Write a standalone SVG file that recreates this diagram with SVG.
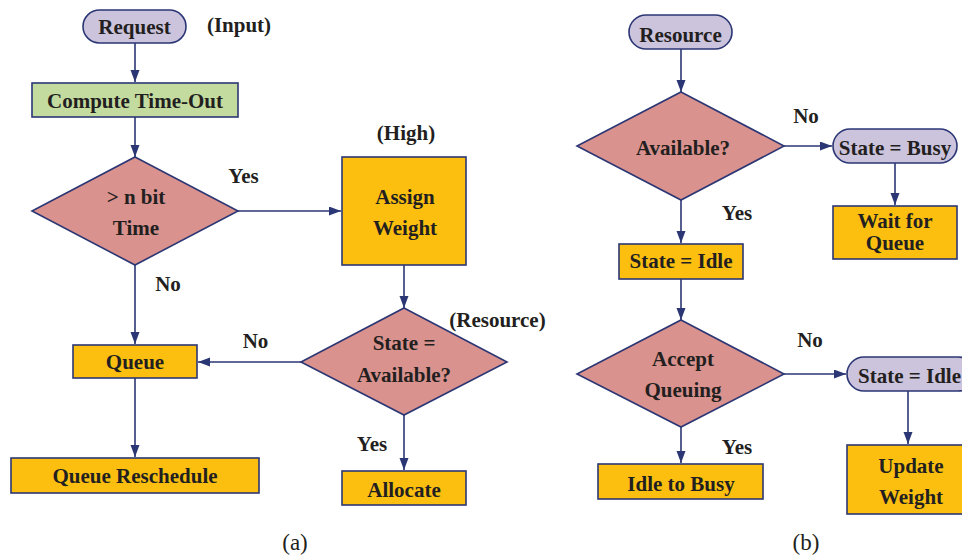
<svg xmlns="http://www.w3.org/2000/svg" width="962" height="556" viewBox="0 0 962 556">
<defs>
<marker id="ah" markerUnits="userSpaceOnUse" markerWidth="12" markerHeight="10" refX="12" refY="4.5" orient="auto">
<path d="M0,0 L12,4.5 L0,9 z" fill="#2B3674"/>
</marker>
<style>
.t{font-family:"Liberation Serif","Times New Roman",serif;font-weight:bold;font-size:21px;fill:#231F20;text-anchor:middle}
.cap{font-family:"Liberation Serif","Times New Roman",serif;font-size:23px;fill:#231F20;text-anchor:middle}
.pill{fill:#CCC3DD;stroke:#2B3674;stroke-width:1.6}
.green{fill:#C4DBA0;stroke:#2B3674;stroke-width:1.6}
.box{fill:#FCBF10;stroke:#2B3674;stroke-width:1.6}
.dia{fill:#D9928D;stroke:#2B3674;stroke-width:1.6}
.c{fill:none;stroke:#2B3674;stroke-width:1.6;marker-end:url(#ah)}
</style>
</defs>
<rect width="962" height="556" fill="#fff"/>
<g id="connectors">
<line class="c" x1="135" y1="43" x2="135" y2="82"/>
<line class="c" x1="135" y1="117" x2="135" y2="157"/>
<line class="c" x1="238" y1="211" x2="341" y2="211"/>
<line class="c" x1="135" y1="265" x2="135" y2="344"/>
<line class="c" x1="404" y1="265" x2="404" y2="308"/>
<line class="c" x1="301" y1="362" x2="198" y2="362"/>
<line class="c" x1="404" y1="415" x2="404" y2="470"/>
<line class="c" x1="135" y1="378" x2="135" y2="457"/>
<line class="c" x1="681" y1="49" x2="681" y2="92"/>
<line class="c" x1="784" y1="146" x2="832" y2="146"/>
<line class="c" x1="895" y1="163" x2="895" y2="205"/>
<line class="c" x1="681" y1="200" x2="681" y2="243"/>
<line class="c" x1="681" y1="279" x2="681" y2="320"/>
<line class="c" x1="784" y1="374" x2="846" y2="374"/>
<line class="c" x1="908" y1="391" x2="908" y2="444"/>
<line class="c" x1="681" y1="427" x2="681" y2="463"/>
</g>
<g id="labels">
<text class="t" x="239" y="32">(Input)</text>
<text class="t" x="243.5" y="183">Yes</text>
<text class="t" x="168" y="291">No</text>
<text class="t" x="406" y="140">(High)</text>
<text class="t" x="497.5" y="327">(Resource)</text>
<text class="t" x="255.5" y="348">No</text>
<text class="t" x="372" y="451">Yes</text>
<text class="t" x="806" y="123">No</text>
<text class="t" x="737" y="220">Yes</text>
<text class="t" x="810" y="347">No</text>
<text class="t" x="737" y="454">Yes</text>
<text class="cap" x="295" y="550">(a)</text>
<text class="cap" x="806" y="550">(b)</text>
</g>
<g id="request"><rect class="pill" x="83" y="10" width="103" height="33" rx="16.5"/><text class="t" x="134.5" y="34">Request</text></g>
<g id="compute"><rect class="green" x="32" y="83" width="206" height="34"/><text class="t" x="135" y="108">Compute Time-Out</text></g>
<g id="nbit"><polygon class="dia" points="135,157 238,211 135,265 32,211"/><text class="t" x="136" y="204">&gt; n bit</text><text class="t" x="136" y="235">Time</text></g>
<g id="assign"><rect class="box" x="342" y="157" width="124" height="108"/><text class="t" x="405" y="204">Assign</text><text class="t" x="405" y="235">Weight</text></g>
<g id="stateavail"><polygon class="dia" points="404,308 507,362 404,415 301,362"/><text class="t" x="404" y="350">State =</text><text class="t" x="404" y="382">Available?</text></g>
<g id="allocate"><rect class="box" x="342" y="471" width="124" height="34"/><text class="t" x="404" y="497">Allocate</text></g>
<g id="queue"><rect class="box" x="73" y="345" width="124" height="33"/><text class="t" x="135" y="369">Queue</text></g>
<g id="reschedule"><rect class="box" x="11" y="458" width="248" height="35"/><text class="t" x="135" y="483">Queue Reschedule</text></g>
<g id="resource"><rect class="pill" x="629" y="15" width="103" height="34" rx="17"/><text class="t" x="680.5" y="42">Resource</text></g>
<g id="available"><polygon class="dia" points="681,92 784,146 681,200 577,146"/><text class="t" x="683" y="155">Available?</text></g>
<g id="busy"><rect class="pill" x="833" y="129" width="124" height="34" rx="17"/><text class="t" x="895" y="155">State = Busy</text></g>
<g id="wait"><rect class="box" x="833" y="206" width="124" height="53"/><text class="t" x="895" y="228">Wait for</text><text class="t" x="895" y="250">Queue</text></g>
<g id="idle"><rect class="box" x="619" y="244" width="124" height="35"/><text class="t" x="681" y="268">State = Idle</text></g>
<g id="accept"><polygon class="dia" points="681,320 784,374 681,427 577,374"/><text class="t" x="683" y="366">Accept</text><text class="t" x="683" y="397">Queuing</text></g>
<g id="idle2"><rect class="pill" x="847" y="357" width="128" height="34" rx="17"/><text class="t" x="858" y="383" style="text-anchor:start">State = Idle</text></g>
<g id="update"><rect class="box" x="847" y="445" width="128" height="69"/><text class="t" x="911" y="473">Update</text><text class="t" x="911" y="504">Weight</text></g>
<g id="idlebusy"><rect class="box" x="598" y="464" width="165" height="35"/><text class="t" x="681" y="491">Idle to Busy</text></g>
</svg>
